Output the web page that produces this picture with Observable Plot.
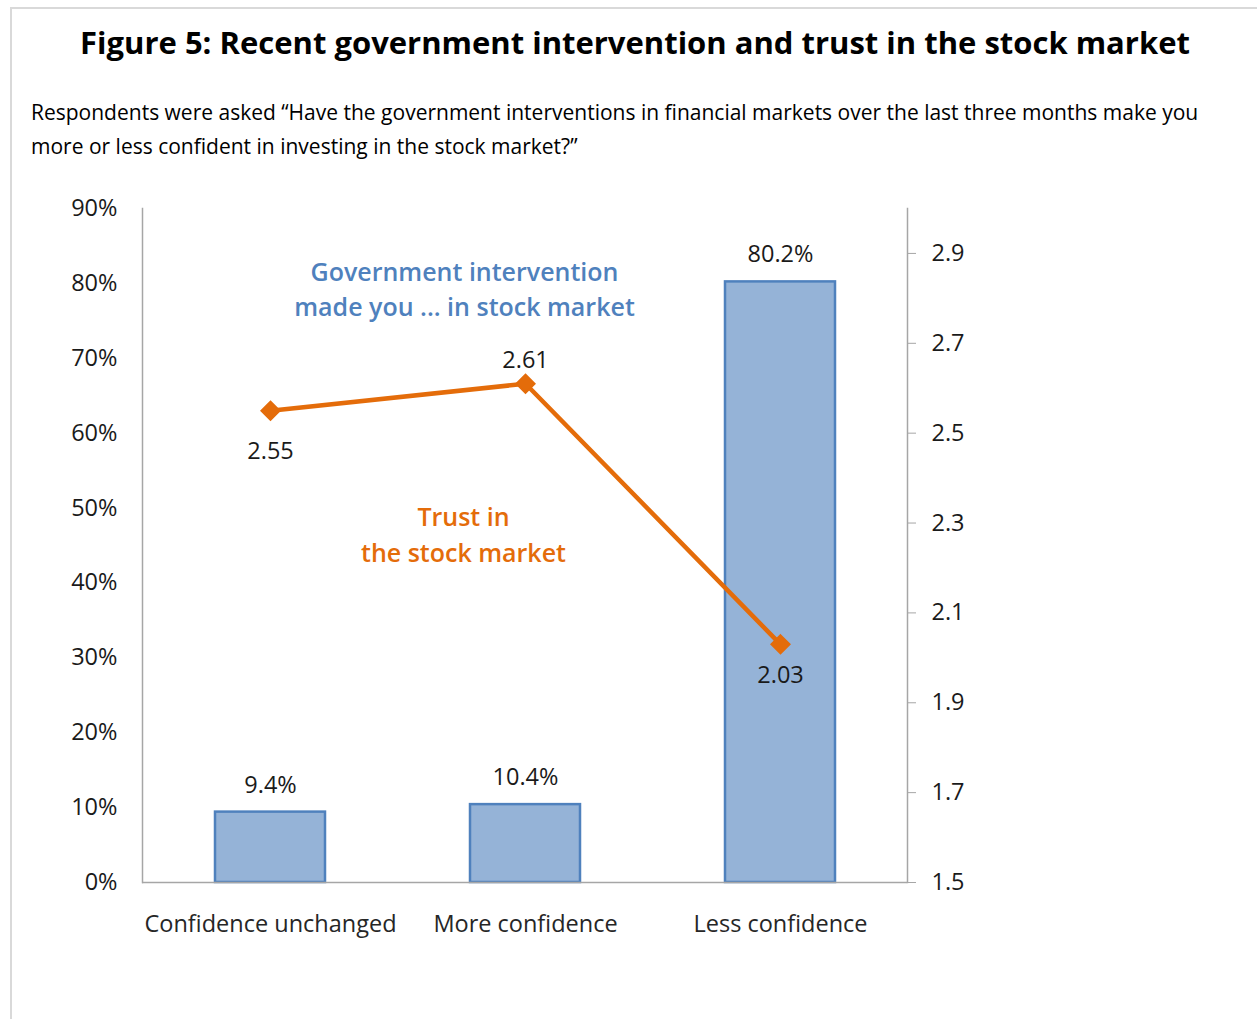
<!DOCTYPE html>
<html>
<head>
<meta charset="utf-8">
<script src="https://cdn.jsdelivr.net/npm/d3@7"></script>
<script src="https://cdn.jsdelivr.net/npm/@observablehq/plot@0.6"></script>
<style>
  html, body { margin: 0; padding: 0; background: #fff; }
  #page { position: relative; width: 1257px; height: 1019px; overflow: hidden; font-family: "Open Sans", sans-serif; }
  #border { position: absolute; left: 10px; top: 7px; width: 1260px; height: 1030px; border: 2px solid #d9d9d9; box-sizing: border-box; }
  #title { position: absolute; left: 0; width: 1270px; top: 20px; text-align: center; font-weight: 700; font-size: 31px; color: #000; white-space: nowrap; line-height: 44px; }
  #subtitle { position: absolute; left: 31px; top: 95px; font-size: 21px; line-height: 34px; color: #000; white-space: nowrap; }
  .chart { position: absolute; left: 0; top: 180px; }
  .chart svg { overflow: visible; }
</style>
</head>
<body>
<div id="page">
  <div id="border"></div>
  <div id="title">Figure 5: Recent government intervention and trust in the stock market</div>
  <div id="subtitle">Respondents were asked “Have the government interventions in financial markets over the last three months make you<br>more or less confident in investing in the stock market?”</div>
  <div id="bars" class="chart"></div>
  <div id="line" class="chart"></div>
</div>
<script>
const categories = ["Confidence unchanged", "More confidence", "Less confidence"];
const shareValues = [0.094, 0.104, 0.802];
const trustValues = [2.55, 2.61, 2.03];
const shareTicks = [0, 0.1, 0.2, 0.3, 0.4, 0.5, 0.6, 0.7, 0.8, 0.9];
const trustTicks = [1.5, 1.7, 1.9, 2.1, 2.3, 2.5, 2.7, 2.9];
const shareDomain = [0, 0.9];
const trustDomain = [1.5, 3.0];

const barData = categories.map((c, i) => ({category: c, share: shareValues[i]}));
const lineData = categories.map((c, i) => ({category: c, trust: trustValues[i]}));

const W = 1257, H = 800;
const common = {
  width: W, height: H,
  marginTop: 28, marginBottom: 98, marginLeft: 142, marginRight: 350,
  style: {fontFamily: "Open Sans, sans-serif", fontSize: "23px", color: "#1a1a1a", background: "transparent"}
};
const xScale = {type: "band", domain: categories, paddingInner: 0.57, paddingOuter: 0.285, label: null};

const blue = "#4F81BD", orange = "#E46C0A";
const FS = 23.5;

const bars = Plot.plot({
  ...common,
  x: {...xScale},
  y: {domain: shareDomain, label: null},
  marks: [
    Plot.barY(barData, {x: "category", y: "share", fill: "#95B3D7", stroke: blue, strokeWidth: 2.5,
      style: "filter: drop-shadow(0px 1px 2px rgba(0,0,0,0.25))"}),
    Plot.axisY(shareTicks, {anchor: "left", label: null, tickSize: 0, tickPadding: 25, tickFormat: d3.format(".0%"), fontSize: FS, fill: "#1a1a1a"}),
    Plot.axisX({anchor: "bottom", label: null, tickSize: 0, tickPadding: 33, fontSize: FS, fill: "#262626"}),
    Plot.ruleY([0], {stroke: "#a6a6a6", strokeWidth: 1.5}),
    Plot.frame({anchor: "left", stroke: "#a6a6a6", strokeWidth: 1.5}),
    Plot.text(barData, {x: "category", y: "share", text: d => d3.format(".1%")(d.share), dy: -27, fontSize: FS, fill: "#1a1a1a"}),
    Plot.text(["Government intervention\nmade you ... in stock market"], {x: () => categories[1], y: () => 0.795, dx: -61, text: d => d, fill: blue, fontSize: 25, fontWeight: 600, lineHeight: 1.42}),
    Plot.text(["Trust in\nthe stock market"], {x: () => categories[1], y: () => 0.467, dx: -62, text: d => d, fill: orange, fontSize: 25, fontWeight: 600, lineHeight: 1.42})
  ]
});
document.getElementById("bars").append(bars);

const line = Plot.plot({
  ...common,
  x: {...xScale, axis: null},
  y: {domain: trustDomain, label: null, axis: null},
  marks: [
    Plot.frame({anchor: "right", stroke: "#a6a6a6", strokeWidth: 1.5}),
    Plot.axisY(trustTicks, {anchor: "right", label: null, tickSize: 8, tickPadding: 16, tickFormat: d3.format(".1f"), fontSize: FS, fill: "#1a1a1a", stroke: "#a6a6a6"}),
    Plot.line(lineData, {x: "category", y: "trust", stroke: orange, strokeWidth: 4.5}),
    Plot.dot(lineData, {x: "category", y: "trust", symbol: "diamond2", r: 8.5, fill: orange, stroke: orange}),
    Plot.text(lineData, {filter: (d, i) => i === 0, x: "category", y: "trust", text: d => d.trust.toFixed(2), dy: 41, fontSize: FS, fill: "#1a1a1a"}),
    Plot.text(lineData, {filter: (d, i) => i === 1, x: "category", y: "trust", text: d => d.trust.toFixed(2), dy: -23, fontSize: FS, fill: "#1a1a1a"}),
    Plot.text(lineData, {filter: (d, i) => i === 2, x: "category", y: "trust", text: d => d.trust.toFixed(2), dy: 31, fontSize: FS, fill: "#1a1a1a"})
  ]
});
document.getElementById("line").append(line);
</script>
</body>
</html>
